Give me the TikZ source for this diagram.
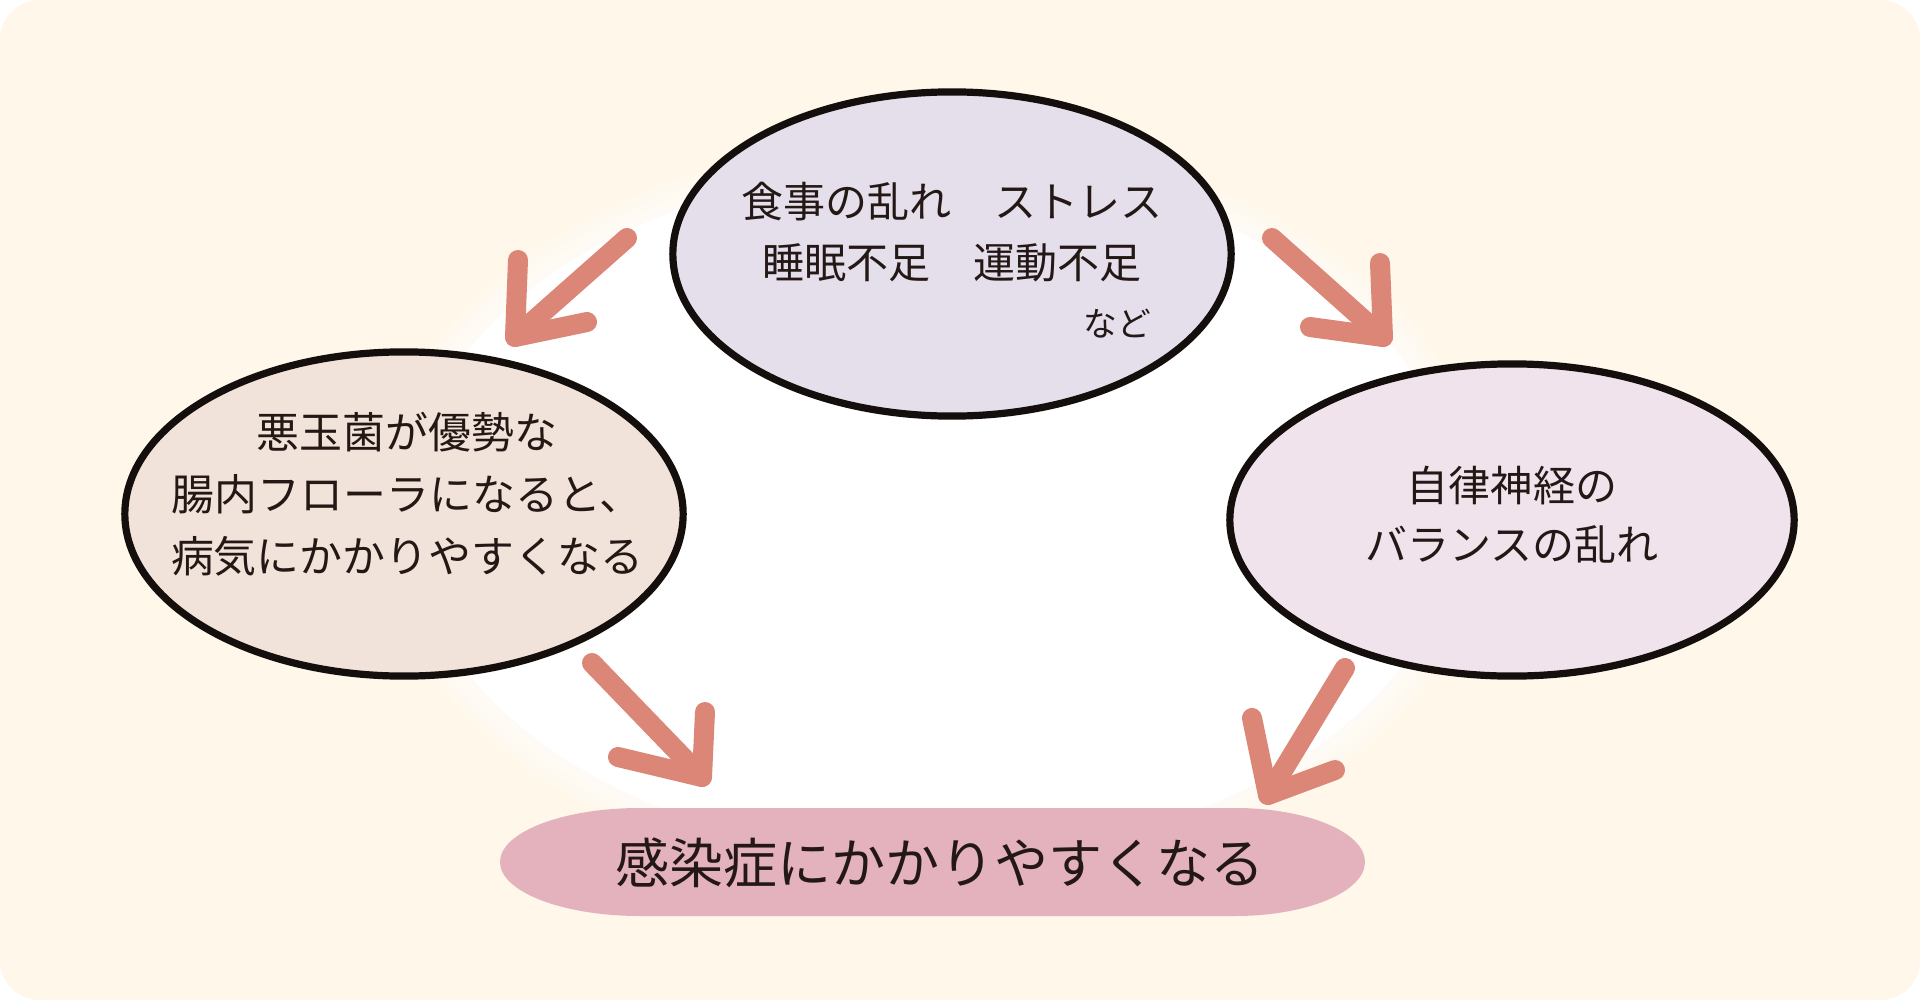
\documentclass[tikz,border=0pt]{standalone}
\usepackage{fontspec}
\setmainfont{Noto Sans CJK JP}
\usetikzlibrary{shapes.geometric}
\definecolor{cream}{HTML}{FEF7EA}
\definecolor{topfill}{HTML}{E5DFEB}
\definecolor{leftfill}{HTML}{F2E3DA}
\definecolor{rightfill}{HTML}{F1E3EC}
\definecolor{pillfill}{HTML}{E3B2BC}
\definecolor{arrowc}{HTML}{DB8677}
\definecolor{textc}{HTML}{231815}
\definecolor{borderc}{HTML}{140E0C}
\tikzset{
  bubble/.style={ellipse, draw=borderc, line width=0.072cm, inner sep=0pt},
  arrowline/.style={draw=arrowc, line width=0.2cm, line cap=round, line join=round},
  txt/.style={text=textc, align=center, inner sep=0pt, font=\fontsize{11.95pt}{17.4pt}\selectfont},
}
\begin{document}
\begin{tikzpicture}[x=0.01cm,y=-0.01cm]
\useasboundingbox (0,0) rectangle (1920,1000);
\fill[white] (0,0) rectangle (1920,1000);
\fill[cream, rounded corners=0.4cm] (0,0) rectangle (1920,1000);
% soft white blob
\foreach \i in {1,...,5}
  \fill[white, opacity=0.18] (932,512) ellipse [x radius=525+\i*6, y radius=345+\i*6];
\fill[white] (932,512) ellipse [x radius=525, y radius=345];

% arrows
\coordinate (a1s) at (627,238); \coordinate (a1t) at (515,337);
\coordinate (a1p) at (518,260); \coordinate (a1q) at (587,322);
\coordinate (a2s) at (1272,238); \coordinate (a2t) at (1383,337);
\coordinate (a2p) at (1380,263); \coordinate (a2q) at (1310,327);
\coordinate (a3s) at (592,663); \coordinate (a3t) at (702,777);
\coordinate (a3p) at (705,712); \coordinate (a3q) at (618,757);
\coordinate (a4s) at (1345,668); \coordinate (a4t) at (1268,795);
\coordinate (a4p) at (1252,718); \coordinate (a4q) at (1335,770);
\foreach \k in {1,2,3,4}{
  \draw[arrowline] (a\k s) -- (a\k t);
  \draw[arrowline] (a\k p) -- (a\k t) -- (a\k q);
}

% bottom pill
\fill[pillfill] (640,808) -- (1235,808)
  arc[start angle=-90, end angle=90, x radius=130, y radius=54]
  -- (640,916)
  arc[start angle=90, end angle=270, x radius=140, y radius=54] -- cycle;
\node[txt, font=\fontsize{15.36pt}{18pt}\selectfont] (bottomtext) at (940,863) {感染症にかかりやすくなる};

% ellipses
\node[bubble, fill=topfill, minimum width=5.58cm, minimum height=3.24cm] (top) at (952,254) {};
\node[bubble, fill=leftfill, minimum width=5.58cm, minimum height=3.24cm] (left) at (404,514) {};
\node[bubble, fill=rightfill, minimum width=5.64cm, minimum height=3.12cm] (right) at (1512,520) {};

% texts
\node[txt, font=\fontsize{11.95pt}{17.36pt}\selectfont] (toptext) at (952,232) {食事の乱れ　ストレス\\睡眠不足　運動不足};
\node[txt, font=\fontsize{9.6pt}{12pt}\selectfont] (nado) at (1117,324) {など};
\node[txt, font=\fontsize{12.2pt}{17.64pt}\selectfont] (lefttext) at (407,494) {悪玉菌が優勢な\\腸内フローラになると、\\病気にかかりやすくなる};
\node[txt, font=\fontsize{11.95pt}{16.8pt}\selectfont] (righttext) at (1512,515) {自律神経の\\バランスの乱れ};
\end{tikzpicture}
\end{document}
